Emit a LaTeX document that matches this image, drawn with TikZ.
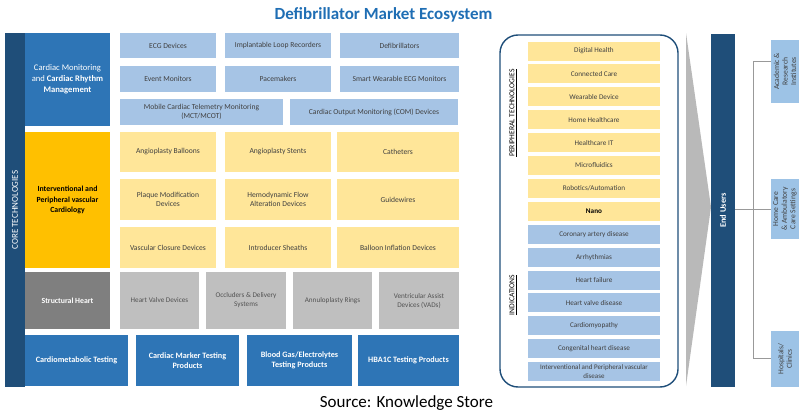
\documentclass[tikz,border=0pt]{standalone}
\usepackage{fontspec}
\setmainfont{Carlito}
\usepackage{tikz}
\usetikzlibrary{positioning}

\definecolor{navy}{RGB}{31,78,121}
\definecolor{midblue}{RGB}{46,117,182}
\definecolor{paleblue}{RGB}{166,196,229}
\definecolor{endblue}{RGB}{157,195,230}
\definecolor{paleyellow}{RGB}{255,230,153}
\definecolor{gold}{RGB}{255,192,0}
\definecolor{lightgrey}{RGB}{191,191,191}
\definecolor{darkgrey}{RGB}{127,127,127}
\definecolor{boxtext}{RGB}{64,64,64}
\definecolor{titleblue}{RGB}{31,110,180}
\newcommand{\fs}[2]{\fontsize{#1}{#2}\selectfont}

\begin{document}
\begin{tikzpicture}[x=1pt,y=-1pt]
	\tikzstyle{every node}+=[inner sep=1pt, align=center]
	\tikzstyle{sz}=[minimum width=#1pt]
	\tikzstyle{ht}=[minimum height=#1pt]
	\tikzstyle{devbox}=[fill=paleblue, text=boxtext, font=\fs{7.6}{9.5}]
	\tikzstyle{intbox}=[fill=paleyellow, text=boxtext, font=\fs{7.6}{9.5}]
	\tikzstyle{shbox}=[fill=lightgrey, text=boxtext!90, font=\fs{7.2}{9}]
	\tikzstyle{testbox}=[fill=midblue, text=white, font=\bfseries\fs{8.2}{10.5}]
	\tikzstyle{rowbox}=[sz=132, ht=19, font=\fs{7.2}{8.6}, text=boxtext]
	\tikzstyle{userbox}=[fill=endblue, text=boxtext, font=\fs{7.6}{8.6}, inner sep=0.5pt, rotate=90, align=center]
	\tikzstyle{link}=[draw=gray!80, line width=1pt]
	\useasboundingbox (0,0) rectangle (812,415);

	% title and source
	\node[font=\bfseries\fs{17}{20}, text=titleblue] (title) at (383.5,15) {Defibrillator Market Ecosystem};
	\node[font=\fs{17}{20}] (source) at (406.5,403) {Source: Knowledge Store};

	% core technologies
	\node[fill=navy, sz=20, ht=354] (core) at (15,210) {};
	\node[rotate=90, text=white, font=\fs{9}{10}] at (core.center) {CORE TECHNOLOGIES};

	\node[fill=midblue, sz=85, ht=93, text=white, font=\fs{8.6}{11}] (cardiac) at (67.5,79.5) {Cardiac Monitoring\\and \textbf{Cardiac Rhythm}\\\textbf{Management}};
	\node[devbox, sz=96, ht=25] (ecg) at (168,45.5) {ECG Devices};
	\node[devbox, sz=106, ht=25] (loop) at (278,45.5) {Implantable Loop Recorders};
	\node[devbox, sz=119, ht=25] (defib) at (399.5,45.5) {Defibrillators};
	\node[devbox, sz=96, ht=26] (event) at (168,79) {Event Monitors};
	\node[devbox, sz=106, ht=26] (pace) at (278,79) {Pacemakers};
	\node[devbox, sz=119, ht=26] (smart) at (399.5,79) {Smart Wearable ECG Monitors};
	\node[devbox, sz=163, ht=26] (mct) at (201.5,112) {Mobile Cardiac Telemetry Monitoring\\(MCT/MCOT)};
	\node[devbox, sz=168, ht=26] (com) at (374,112) {Cardiac Output Monitoring (COM) Devices};

	\node[fill=gold, sz=85, ht=136, font=\bfseries\fs{7.8}{10.5}] (interv) at (67.5,200) {Interventional and\\Peripheral vascular\\Cardiology};
	\node[intbox, sz=96, ht=40] (balloon) at (168,152) {Angioplasty Balloons};
	\node[intbox, sz=106, ht=40] (stent) at (278,152) {Angioplasty Stents};
	\node[intbox, sz=122, ht=40] (cath) at (398,152) {Catheters};
	\node[intbox, sz=96, ht=41] (plaque) at (168,199.5) {Plaque Modification\\Devices};
	\node[intbox, sz=106, ht=41] (flow) at (278,199.5) {Hemodynamic Flow\\Alteration Devices};
	\node[intbox, sz=122, ht=41] (guide) at (398,199.5) {Guidewires};
	\node[intbox, sz=96, ht=41] (closure) at (168,247.5) {Vascular Closure Devices};
	\node[intbox, sz=106, ht=41] (sheath) at (278,247.5) {Introducer Sheaths};
	\node[intbox, sz=122, ht=41] (inflate) at (398,247.5) {Balloon Inflation Devices};

	\node[fill=darkgrey, sz=85, ht=57, text=white, font=\bfseries\fs{7.8}{10}] (struct) at (67.5,300.5) {Structural Heart};
	\node[shbox, sz=79, ht=57] (valve) at (159.5,300.5) {Heart Valve Devices};
	\node[shbox, sz=80, ht=57] (occl) at (246,300.5) {Occluders \& Delivery\\Systems};
	\node[shbox, sz=79, ht=57] (ring) at (332.5,300.5) {Annuloplasty Rings};
	\node[shbox, sz=80, ht=57] (vad) at (419,300.5) {Ventricular Assist\\Devices (VADs)};

	\node[testbox, sz=103, ht=51] (metab) at (76.5,360.5) {Cardiometabolic Testing};
	\node[testbox, sz=103, ht=51] (marker) at (187.5,360.5) {Cardiac Marker Testing\\Products};
	\node[testbox, sz=105, ht=51] (gas) at (299.5,360.5) {Blood Gas/Electrolytes\\Testing Products};
	\node[testbox, sz=101, ht=51] (hba) at (408.5,360.5) {HBA1C Testing Products};

	% peripheral technologies and indications
	\node[draw=navy, line width=1.4pt, rounded corners=18pt, sz=178, ht=352] (panel) at (589,211) {};
	\node[rotate=90, font=\fs{7.6}{9}] (periph) at (513,113) {\underline{PERIPHERAL TECHNOLOGIES}};
	\node[rotate=90, font=\fs{7.6}{9}] (indic) at (513,295) {\underline{INDICATIONS}};
	\node[rowbox, fill=paleyellow] (p1) at (594,51) {Digital Health};
	\node[rowbox, fill=paleyellow] (p2) at (594,73.9) {Connected Care};
	\node[rowbox, fill=paleyellow] (p3) at (594,96.8) {Wearable Device};
	\node[rowbox, fill=paleyellow] (p4) at (594,119.7) {Home Healthcare};
	\node[rowbox, fill=paleyellow] (p5) at (594,142.6) {Healthcare IT};
	\node[rowbox, fill=paleyellow] (p6) at (594,165.5) {Microfluidics};
	\node[rowbox, fill=paleyellow] (p7) at (594,188.4) {Robotics/Automation};
	\node[rowbox, fill=paleyellow, text=black, font=\bfseries\fs{7.2}{8.6}] (p8) at (594,211.3) {Nano};
	\node[rowbox, fill=paleblue] (i1) at (594,234.2) {Coronary artery disease};
	\node[rowbox, fill=paleblue] (i2) at (594,257.1) {Arrhythmias};
	\node[rowbox, fill=paleblue] (i3) at (594,280) {Heart failure};
	\node[rowbox, fill=paleblue] (i4) at (594,302.9) {Heart valve disease};
	\node[rowbox, fill=paleblue] (i5) at (594,325.8) {Cardiomyopathy};
	\node[rowbox, fill=paleblue] (i6) at (594,348.7) {Congenital heart disease};
	\node[rowbox, fill=paleblue, font=\fs{7}{8.2}] (i7) at (594,371.6) {Interventional and Peripheral vascular\\disease};

	% end users
	\fill[gray!55] (686,33) -- (711,207) -- (686,386) -- cycle;
	\node[fill=navy, sz=24, ht=353] (users) at (723,210.5) {};
	\node[rotate=90, text=white, font=\bfseries\fs{8.4}{10}] at (users.center) {End Users};
	\node[userbox, minimum width=63pt, minimum height=28pt] (acad) at (785,71.5) {Academic \&\\Research\\Institutes};
	\node[userbox, minimum width=60pt, minimum height=28pt] (home) at (785,209) {Home Care\\\& Ambulatory\\Care Settings};
	\node[userbox, minimum width=56pt, minimum height=28pt] (hosp) at (785,359) {Hospitals/\\Clinics};
	\coordinate (topj) at (753,61);
	\coordinate (botj) at (753,358);
	\draw[link] (home.north) -- (home.north -| users.east);
	\draw[link] (topj) -- (botj);
	\draw[link] (topj) -- (topj -| acad.north);
	\draw[link] (botj) -- (botj -| hosp.north);
\end{tikzpicture}
\end{document}
